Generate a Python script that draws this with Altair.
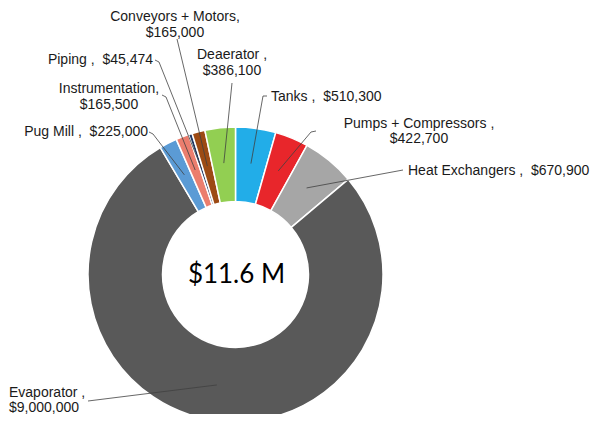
import math
import altair as alt
import pandas as pd

# ---- data (clockwise from 12 o'clock) ----
names = ["Tanks", "Pumps + Compressors", "Heat Exchangers", "Evaporator", "Pug Mill",
         "Instrumentation", "Piping", "Conveyors + Motors", "Deaerator"]
values = [510300, 422700, 670900, 9000000, 225000, 165500, 45474, 165000, 386100]
colors = ["#22ADE8", "#E8262B", "#A6A6A6", "#595959", "#5B9BD5",
          "#EB7E6E", "#203864", "#9C4A14", "#92CF52"]
NB = "\u00a0"
separators = [" ," + NB + " ", " ,\n", " ," + NB + " ", " ,\n", " ," + NB + " ",
              ",\n", " ," + NB + " ", ",\n", " ,\n"]
center_label = "$11.6 M"

# ---- layout (screen pixels) ----
CX, CY = 235.5, 274.5
R_OUT, R_IN = 147.5, 73
R_LEAD = 112
# (x, y of first text line, align)
label_pos = {
    "Tanks": (271, 97, "left"),
    "Pumps + Compressors": (419, 123.5, "center"),
    "Heat Exchangers": (408, 171, "left"),
    "Evaporator": (9, 392.5, "left"),
    "Pug Mill": (148, 132, "right"),
    "Instrumentation": (109, 89, "center"),
    "Piping": (153, 60, "right"),
    "Conveyors + Motors": (175, 17, "center"),
    "Deaerator": (232, 55, "center"),
}
leader_bends = {
    "Tanks": [(263, 96), (267, 96)],
    "Pumps + Compressors": [(311, 132), (316, 131)],
    "Heat Exchangers": [(403, 170)],
    "Evaporator": [(88, 401)],
    "Pug Mill": [(153, 134), (149, 132)],
    "Instrumentation": [(166, 97), (162, 95)],
    "Piping": [(159, 62), (155, 60)],
    "Conveyors + Motors": [(177, 39)],
    "Deaerator": [(232, 83)],
}

W, H = 587, 406
XS = alt.Scale(domain=[8, 8 + W], nice=False, zero=False)
YS = alt.Scale(domain=[8 + H, 8], nice=False, zero=False)

total = sum(values)
df = pd.DataFrame({"name": names, "value": values, "idx": list(range(len(names)))})

# leader lines
rows = []
cum = 0
for n, v in zip(names, values):
    mid = (cum + v / 2) / total * 2 * math.pi
    cum += v
    sx = CX + R_LEAD * math.sin(mid)
    sy = CY - R_LEAD * math.cos(mid)
    pts = [(sx, sy)] + leader_bends[n]
    for i, (px, py) in enumerate(pts):
        rows.append({"name": n, "seq": i, "x": px, "y": py})
lines_df = pd.DataFrame(rows)

# labels
lab_rows = []
for n, v, sep in zip(names, values, separators):
    x, y, a = label_pos[n]
    lab_rows.append({"name": n, "x": x, "y": y, "align": a,
                     "text": f"{n}{sep}${v:,}"})
lab_df = pd.DataFrame(lab_rows)

arc = alt.Chart(df).mark_arc(
    outerRadius=R_OUT, innerRadius=R_IN, stroke="white", strokeWidth=1.5
).encode(
    theta=alt.Theta("value:Q", stack=True),
    color=alt.Color("name:N", scale=alt.Scale(domain=names, range=colors), legend=None),
    order=alt.Order("idx:Q"),
    x=alt.XDatum(CX, type="quantitative", scale=XS, axis=None),
    y=alt.YDatum(CY, type="quantitative", scale=YS, axis=None),
)

lines = alt.Chart(lines_df).mark_line(color="#404040", strokeWidth=0.8).encode(
    x=alt.X("x:Q", scale=XS, axis=None),
    y=alt.Y("y:Q", scale=YS, axis=None),
    detail="name:N",
    order="seq:Q",
)

text_layers = []
for a in ["left", "center", "right"]:
    text_layers.append(
        alt.Chart(lab_df[lab_df["align"] == a]).mark_text(
            align=a, baseline="middle", font="Liberation Sans", fontSize=14,
            lineBreak="\n", lineHeight=15.5, color="#1a1a1a"
        ).encode(
            x=alt.X("x:Q", scale=XS, axis=None),
            y=alt.Y("y:Q", scale=YS, axis=None),
            text="text:N",
        )
    )

center = alt.Chart(pd.DataFrame({"t": [center_label]})).mark_text(
    font="Lato", fontSize=26, color="#000000", baseline="middle", align="center"
).encode(
    x=alt.XDatum(CX + 1, type="quantitative", scale=XS, axis=None),
    y=alt.YDatum(CY, type="quantitative", scale=YS, axis=None),
    text="t:N",
)

chart = alt.layer(arc, lines, *text_layers, center).properties(
    width=W, height=H, padding=0, autosize="none"
).configure_view(stroke=None)

chart.save("out.html", embed_options={"renderer": "svg", "actions": False})
